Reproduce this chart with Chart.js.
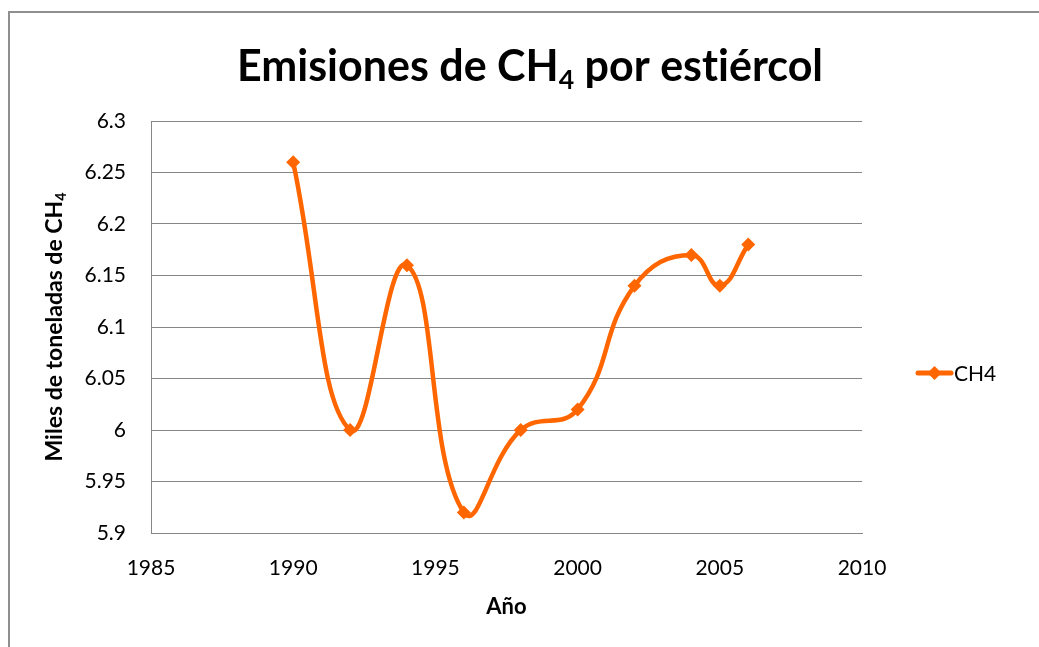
<!DOCTYPE html>
<html>
<head>
<meta charset="utf-8">
<script src="https://cdn.jsdelivr.net/npm/chart.js@4/dist/chart.umd.min.js"></script>
<style>
  html, body { margin: 0; padding: 0; background: #fff; }
  #wrap { width: 1039px; height: 647px; position: relative; }
</style>
</head>
<body>
<div id="wrap"><canvas id="ch4Chart" width="1039" height="647"></canvas></div>
<script>
// datos
var years = [1990, 1992, 1994, 1996, 1998, 2000, 2002, 2004, 2005, 2006];
var ch4 = [6.26, 6.00, 6.16, 5.92, 6.00, 6.02, 6.14, 6.17, 6.14, 6.18];
var seriesName = 'CH4';
var xTicks = [1985, 1990, 1995, 2000, 2005, 2010];
var yTicks = [5.9, 5.95, 6, 6.05, 6.1, 6.15, 6.2, 6.25, 6.3];

var naranja = 'rgb(255, 102, 0)';
var gris = '#868686';
var fuente = 'Lato, "Open Sans", sans-serif';

var puntos = [];
for (var i = 0; i < years.length; i++) {
    puntos.push({ x: years[i], y: ch4[i] });
}

// dibuja texto con subindice, ej. CH + 4
function textoSub(ctx, partes, size, x, y, align) {
    var total = 0;
    partes.forEach(function (p) {
        ctx.font = 'bold ' + (p.sub ? size * 0.62 : size) + 'px ' + fuente;
        total += ctx.measureText(p.t).width;
    });
    var cx = align === 'center' ? x - total / 2 : x;
    partes.forEach(function (p) {
        ctx.font = 'bold ' + (p.sub ? size * 0.62 : size) + 'px ' + fuente;
        ctx.fillText(p.t, cx, p.sub ? y + size * 0.18 : y);
        cx += ctx.measureText(p.t).width;
    });
}

var decorado = {
    id: 'decorado',
    beforeDraw: function (chart) {
        var ctx = chart.ctx;
        ctx.save();
        ctx.strokeStyle = '#8f8f8f';
        ctx.lineWidth = 2;
        ctx.beginPath();
        ctx.moveTo(9, 700);
        ctx.lineTo(9, 12);
        ctx.lineTo(1100, 12);
        ctx.stroke();
        ctx.restore();
    },
    afterDraw: function (chart) {
        var ctx = chart.ctx;
        var area = chart.chartArea;
        ctx.save();
        ctx.fillStyle = '#000';
        ctx.textBaseline = 'alphabetic';

        // titulo (\u200C evita la ligadura "ti" de Lato)
        textoSub(ctx, [{ t: 'Emisiones de CH' }, { t: '4', sub: true }, { t: ' por est\u200Ciércol' }], 43, 530, 81, 'center');

        // titulo eje y
        ctx.save();
        ctx.translate(62, (area.top + area.bottom) / 2);
        ctx.rotate(-Math.PI / 2);
        textoSub(ctx, [{ t: 'Miles de toneladas de CH' }, { t: '4', sub: true }], 23, 0, 0, 'center');
        ctx.restore();

        // titulo eje x
        ctx.font = 'bold 22px ' + fuente;
        ctx.textAlign = 'center';
        ctx.textBaseline = 'middle';
        ctx.fillText('Año', (area.left + area.right) / 2, 607);

        // leyenda
        var ly = 373;
        ctx.strokeStyle = naranja;
        ctx.lineWidth = 5;
        ctx.lineCap = 'round';
        ctx.beginPath();
        ctx.moveTo(918, ly);
        ctx.lineTo(951, ly);
        ctx.stroke();
        ctx.fillStyle = naranja;
        ctx.beginPath();
        ctx.moveTo(934.5, ly - 7);
        ctx.lineTo(941.5, ly);
        ctx.lineTo(934.5, ly + 7);
        ctx.lineTo(927.5, ly);
        ctx.closePath();
        ctx.fill();
        ctx.fillStyle = '#000';
        ctx.font = '21px ' + fuente;
        ctx.textAlign = 'left';
        ctx.fillText(chart.data.datasets[0].label, 954, ly + 1);
        ctx.restore();
    }
};

var ch4Chart = new Chart('ch4Chart', {
    type: 'line',
    data: {
        datasets: [{
            label: seriesName,
            data: puntos,
            borderColor: naranja,
            backgroundColor: naranja,
            borderWidth: 4.5,
            tension: 0.45,
            pointStyle: 'rectRot',
            pointRadius: 7,
            pointHoverRadius: 7,
            pointBorderWidth: 0
        }]
    },
    options: {
        responsive: false,
        animation: false,
        layout: {
            padding: { left: 0, top: 121, right: 177, bottom: 0 }
        },
        plugins: {
            legend: { display: false },
            title: { display: false },
            tooltip: { enabled: false }
        },
        scales: {
            x: {
                type: 'linear',
                min: 1985,
                max: 2010,
                afterFit: function (scale) { scale.height = 114; },
                afterBuildTicks: function (scale) {
                    scale.ticks = xTicks.map(function (v) { return { value: v }; });
                },
                ticks: {
                    padding: 23,
                    color: '#000',
                    font: { family: fuente, size: 21 },
                    callback: function (v) { return String(v); }
                },
                grid: { display: false, drawTicks: false },
                border: { display: true, color: gris, width: 1 }
            },
            y: {
                min: 5.9,
                max: 6.3,
                afterFit: function (scale) { scale.width = 151; },
                afterBuildTicks: function (scale) {
                    scale.ticks = yTicks.map(function (v) { return { value: v }; });
                },
                ticks: {
                    padding: 25,
                    color: '#000',
                    font: { family: fuente, size: 21 },
                    callback: function (v) { return String(parseFloat(v.toFixed(2))); }
                },
                grid: { color: gris, lineWidth: 1, drawTicks: false },
                border: { display: true, color: gris, width: 1 }
            }
        }
    },
    plugins: [decorado]
});
</script>
</body>
</html>
